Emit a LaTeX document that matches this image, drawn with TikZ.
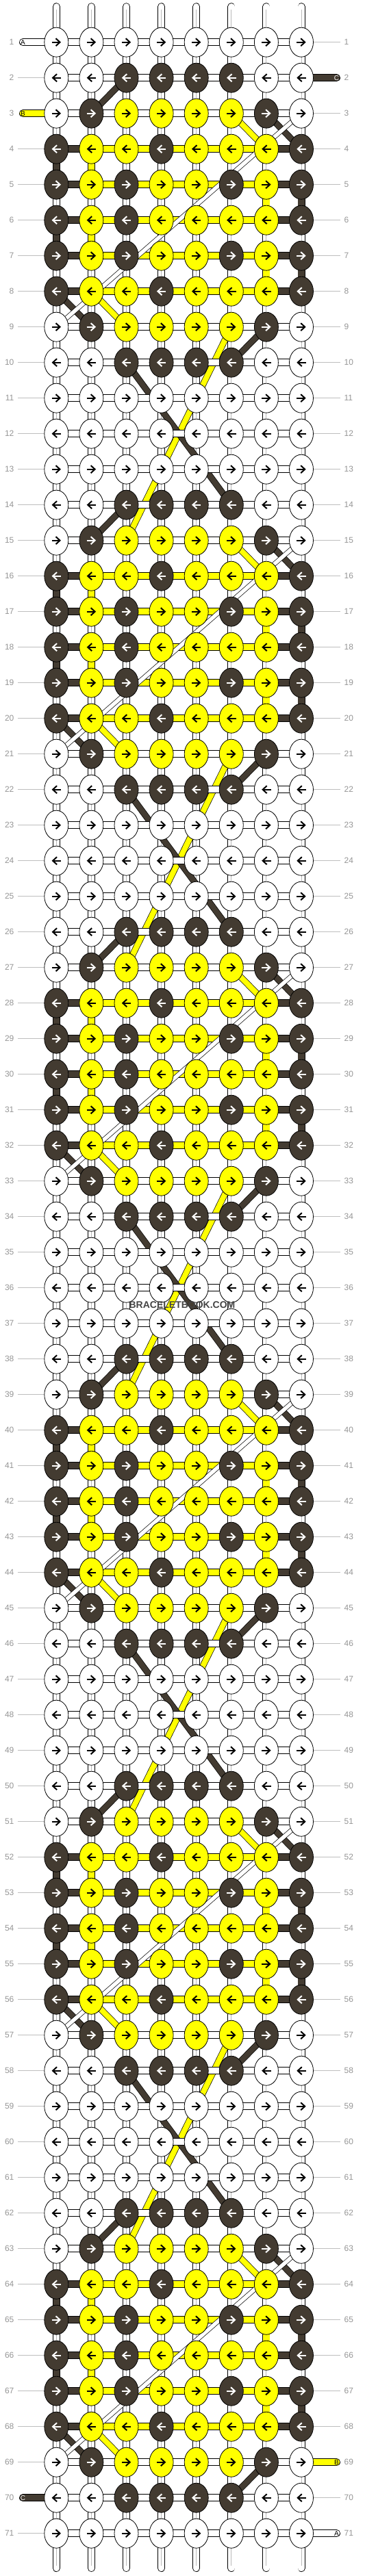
\documentclass[tikz,border=0pt]{standalone}
\usepackage{fontspec}
\setmainfont{Liberation Sans}
\usetikzlibrary{shapes.geometric, arrows.meta}
\definecolor{knotdark}{RGB}{67,59,49}
\definecolor{knotyellow}{RGB}{255,255,0}
\definecolor{rowgrey}{RGB}{150,150,150}
\definecolor{rulegrey}{RGB}{190,190,190}
\definecolor{coregrey}{RGB}{185,185,185}
\definecolor{markgrey}{RGB}{68,68,68}
\pgfdeclarelayer{paper}
\pgfdeclarelayer{vert}
\pgfdeclarelayer{carry}
\pgfdeclarelayer{horiz}
\pgfdeclarelayer{cross}
\pgfsetlayers{paper,vert,carry,horiz,cross,main}
\def\knotcols{{0,0,2,2,2,2,0,0, 0,2,1,1,1,1,2,0, 2,1,1,2,1,1,1,2, 2,1,2,1,1,2,1,2,
  2,1,2,1,1,1,1,2, 2,1,2,1,1,2,1,2, 2,1,1,2,1,1,1,2, 0,2,1,1,1,1,2,0,
  0,0,2,2,2,2,0,0, 0,0,0,0,0,0,0,0, 0,0,0,0,0,0,0,0, 0,0,0,0,0,0,0,0}}
\def\hcols{{0,0,0,0,0,0,0, 0,0,0,0,0,0,0, 2,1,1,1,1,1,2, 2,1,1,1,1,1,2,
  2,1,1,1,1,1,2, 2,1,1,1,1,1,2, 2,1,1,1,1,1,2, 0,0,0,0,0,0,0,
  0,0,0,0,0,0,0, 0,0,0,0,0,0,0, 0,0,0,0,0,0,0, 0,0,0,0,0,0,0}}
\def\vcols{{0,0,0,0,0,0,0,0, 0,0,0,0,0,0,0,0, 2,1,0,0,0,0,0,0, 0,0,0,0,0,0,1,2,
  2,1,0,0,0,0,0,0, 0,0,0,0,0,0,1,2, 0,0,0,0,0,0,0,0, 0,0,0,0,0,0,0,0,
  0,0,0,0,0,0,0,0, 0,0,0,0,0,0,0,0, 0,0,0,0,0,0,0,0, 0,0,0,0,0,0,0,0}}
\tikzset{
  knot/.style={ellipse, draw, line width=0.4pt, minimum width=17.5pt, minimum height=21.5pt, inner sep=0pt},
  knot0/.style={knot, fill=white},
  knot1/.style={knot, fill=knotyellow},
  knot2/.style={knot, fill=knotdark},
  tip0/.style={black}, tip1/.style={black}, tip2/.style={white},
  turn/.style={line width=1pt, -{Straight Barb[length=3pt, width=5.5pt]}},
  thread/.style={line width=0.4pt, double distance=4.7pt},
  thread0/.style={thread, double=white},
  thread1/.style={thread, double=knotyellow},
  thread2/.style={thread, double=knotdark},
  core/.style={coregrey, line width=0.5pt},
  slant/.style={line width=0.35pt, double distance=4pt},
  slantwhite/.style={line width=0.35pt, double distance=2.8pt, double=white},
  rowrule/.style={rulegrey, line width=0.5pt},
  rowlabel/.style={text=rowgrey, font=\fontsize{6pt}{7pt}\selectfont, inner sep=2.6pt},
  endlabel/.style={font=\fontsize{5pt}{6pt}\selectfont, inner sep=0pt}
}
\begin{document}
\begin{tikzpicture}[x=25.55pt, y=-26pt]
\useasboundingbox (-15.6pt,4.85pt) rectangle (250.4pt,-1877.15pt);
\begin{pgfonlayer}{paper}
\fill[white] (-15.6pt,4.85pt) rectangle (250.4pt,-1877.15pt);
\end{pgfonlayer}
\foreach \r in {1,...,71}{
  \pgfmathtruncatemacro\p{mod(\r+10,12)}
  \foreach \c in {1,...,8}{
    \pgfmathtruncatemacro\kc{\knotcols[\p*8+\c-1]}
    \node[knot\kc] (k-\r-\c) at (\c,\r) {};
    \ifodd\r
      \draw[turn, tip\kc] ([xshift=-3.35pt]k-\r-\c.center) -- ([xshift=3.35pt]k-\r-\c.center);
    \else
      \draw[turn, tip\kc] ([xshift=3.35pt]k-\r-\c.center) -- ([xshift=-3.35pt]k-\r-\c.center);
    \fi
  }
  \node[rowlabel, anchor=east] (l-\r) at ([xshift=-28.15pt]k-\r-1.center) {\r};
  \node[rowlabel, anchor=west] (r-\r) at ([xshift=28.5pt]k-\r-8.center) {\r};
}
\begin{pgfonlayer}{vert}
\foreach \r in {1,...,70}{
  \pgfmathtruncatemacro\p{mod(\r+10,12)}
  \pgfmathtruncatemacro\n{\r+1}
  \foreach \c in {1,...,8}{
    \pgfmathtruncatemacro\vc{\vcols[\p*8+\c-1]}
    \draw[thread\vc] (k-\r-\c.center) -- (k-\n-\c.center);
    \ifnum\vc=0 \draw[core] (k-\r-\c.center) -- (k-\n-\c.center); \fi
  }
}
\foreach \c in {1,...,8}{
  \draw[thread0, line cap=round] (k-1-\c.center) -- ([yshift=26pt]k-1-\c.center);
  \draw[core] (k-1-\c.center) -- ([yshift=24pt]k-1-\c.center);
  \draw[thread0, line cap=round] (k-71-\c.center) -- ([yshift=-25.4pt]k-71-\c.center);
  \draw[core] (k-71-\c.center) -- ([yshift=-23.4pt]k-71-\c.center);
}
\foreach \r in {2,4,5,...,69,71}{
  \draw[rowrule] (l-\r.east) -- (k-\r-1.west);
}
\foreach \r in {1,3,4,...,68,70}{
  \draw[rowrule] (k-\r-8.east) -- (r-\r.west);
}
\end{pgfonlayer}
\begin{pgfonlayer}{carry}
\foreach \s in {9,21,33,45,57}{
  \pgfmathtruncatemacro\e{\s+6}
  \pgfmathtruncatemacro\t{\s+1}
  \pgfmathtruncatemacro\u{\s+5}
  \draw[slant, double=knotyellow] (k-\s-6.center) -- (k-\e-3.center);
  \draw[slant, double=knotdark] (k-\t-3.center) -- (k-\u-6.center);
}
\end{pgfonlayer}
\begin{pgfonlayer}{horiz}
\foreach \r in {1,...,71}{
  \pgfmathtruncatemacro\p{mod(\r+10,12)}
  \foreach \c in {1,...,7}{
    \pgfmathtruncatemacro\hc{\hcols[\p*7+\c-1]}
    \pgfmathtruncatemacro\m{\c+1}
    \draw[thread\hc] (k-\r-\c.center) -- (k-\r-\m.center);
  }
}
\draw[thread0, line cap=round] (k-1-1.center) -- ([xshift=-24.4pt]k-1-1.center) node[endlabel] (a-in) {A};
\draw[thread2, line cap=round] (k-2-8.center) -- ([xshift=25.75pt]k-2-8.center) node[endlabel, text=white] (c-in) {C};
\draw[thread1, line cap=round] (k-3-1.center) -- ([xshift=-24.4pt]k-3-1.center) node[endlabel] (b-in) {B};
\draw[thread1, line cap=round] (k-69-8.center) -- ([xshift=25.75pt]k-69-8.center) node[endlabel] (b-out) {B};
\draw[thread2, line cap=round] (k-70-1.center) -- ([xshift=-24.4pt]k-70-1.center) node[endlabel, text=white] (c-out) {C};
\draw[thread0, line cap=round] (k-71-8.center) -- ([xshift=25.75pt]k-71-8.center) node[endlabel] (a-out) {A};
\end{pgfonlayer}
\begin{pgfonlayer}{cross}
\foreach \s in {2,14,26,38,50,62}{
  \pgfmathtruncatemacro\a{\s+1}
  \pgfmathtruncatemacro\b{\s+2}
  \pgfmathtruncatemacro\f{\s+6}
  \pgfmathtruncatemacro\g{\s+7}
  \pgfmathtruncatemacro\h{\s+8}
  \draw[slant, double=knotdark] (k-\s-3.center) -- (k-\a-2.center);
  \draw[slant, double=knotyellow] (k-\a-6.center) -- (k-\b-7.center);
  \draw[slant, double=knotdark] (k-\a-7.center) -- (k-\b-8.center);
  \draw[slant, double=knotdark] (k-\f-1.center) -- (k-\g-2.center);
  \draw[slant, double=knotyellow] (k-\f-2.center) -- (k-\g-3.center);
  \draw[slant, double=knotdark] (k-\g-7.center) -- (k-\h-6.center);
  \draw[slantwhite] (k-\a-8.center) -- (k-\g-1.center);
}
\end{pgfonlayer}
\node[text=markgrey, font=\bfseries\fontsize{7pt}{8pt}\selectfont, inner sep=0pt] (mark) at (117.4pt,-948.65pt) {BRACELETBOOK.COM};
\end{tikzpicture}
\end{document}
